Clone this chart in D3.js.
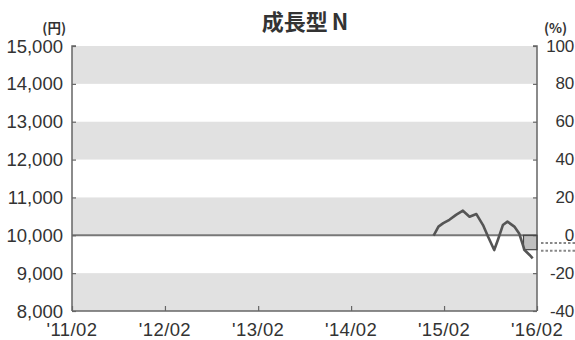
<!DOCTYPE html>
<html>
<head>
<meta charset="utf-8">
<script src="https://cdn.jsdelivr.net/npm/d3@7"></script>
<style>
  html, body { margin: 0; padding: 0; background: #fff; }
  svg text { font-family: "Liberation Sans", Arial, sans-serif; fill: #333; }
</style>
</head>
<body>
<svg id="chart" width="575" height="340"></svg>
<script>
// Fund name and unit labels
const titleMain = "成長型";
const titleSuffix = "N";
const leftUnit = "(円)";
const rightUnit = "(%)";

// Axis ticks
const yenTicks = [8000, 9000, 10000, 11000, 12000, 13000, 14000, 15000];
const pctTicks = [-40, -20, 0, 20, 40, 60, 80, 100];
const dateTicks = ["2011-02", "2012-02", "2013-02", "2014-02", "2015-02", "2016-02"];
const dateTickLabels = ["'11/02", "'12/02", "'13/02", "'14/02", "'15/02", "'16/02"];

// Shaded bands (yen ranges)
const bandLows = [8000, 10000, 12000, 14000];

// NAV series (dates and yen values)
const navDates = [
  "2014-12-22", "2015-01-10", "2015-01-29", "2015-02-22", "2015-03-20", "2015-04-16",
  "2015-05-12", "2015-06-08", "2015-07-04", "2015-07-24", "2015-08-17", "2015-09-01",
  "2015-09-20", "2015-10-08", "2015-11-04", "2015-11-23", "2015-12-14", "2016-01-03", "2016-01-15"
];
const navValues = [
  9990, 10230, 10320, 10410, 10540, 10650,
  10490, 10560, 10270, 9960, 9610, 9890,
  10270, 10360, 10230, 10050, 9610, 9480, 9390
];

// Marker box near the latest values (yen range) and dotted reference levels (%)
const boxRange = [9620, 10000];
const boxDates = ["2015-12-10", "2016-02-01"];
const refLevels = [-4.1, -8.2];

const parse = d3.timeParse("%Y-%m-%d");
const parseM = d3.timeParse("%Y-%m");

const svg = d3.select("#chart");
const plotLeft = 72, plotRight = 537, plotTop = 46, plotBottom = 311;
const labelSize = 18.5;

const x = d3.scaleTime()
  .domain([parseM("2011-02"), parseM("2016-02")])
  .range([plotLeft, plotRight]);
const y = d3.scaleLinear().domain([8000, 15000]).range([plotBottom, plotTop]);
const yPct = d3.scaleLinear().domain([-40, 100]).range([plotBottom, plotTop]);

// Bands
svg.append("g").selectAll("rect").data(bandLows).join("rect")
  .attr("x", plotLeft).attr("width", plotRight - plotLeft)
  .attr("y", d => y(d + 1000)).attr("height", d => y(d) - y(d + 1000))
  .attr("fill", "#e1e1e1");

// Base line at 10,000
svg.append("line")
  .attr("x1", plotLeft).attr("x2", plotRight)
  .attr("y1", y(10000)).attr("y2", y(10000))
  .attr("stroke", "#777").attr("stroke-width", 2);

// Left axis
const axisColor = "#666";
const gL = svg.append("g").attr("transform", `translate(${plotLeft},0)`)
  .call(d3.axisRight(y).tickValues(yenTicks).tickSize(4).tickFormat(""));
gL.select(".domain").attr("stroke", axisColor).attr("stroke-width", 1.5)
  .attr("d", `M4,${plotTop}H0V${plotBottom}`);
gL.selectAll(".tick line").attr("stroke", axisColor).attr("stroke-width", 1.2);

svg.append("g").selectAll("text").data(yenTicks).join("text")
  .attr("x", 63).attr("y", d => y(d))
  .attr("text-anchor", "end").attr("dominant-baseline", "central")
  .attr("font-size", labelSize)
  .text(d3.format(","));

// Right axis
const gR = svg.append("g").attr("transform", `translate(${plotRight},0)`)
  .call(d3.axisLeft(yPct).tickValues(pctTicks).tickSize(4).tickFormat(""));
gR.select(".domain").attr("stroke", axisColor).attr("stroke-width", 1.5)
  .attr("d", `M-4,${plotTop}H0V${plotBottom}`);
gR.selectAll(".tick line").attr("stroke", axisColor).attr("stroke-width", 1.2);

// Dotted reference levels
svg.append("g").selectAll("line").data(refLevels).join("line")
  .attr("x1", plotRight + 4).attr("x2", 575)
  .attr("y1", d => yPct(d)).attr("y2", d => yPct(d))
  .attr("stroke", "#888").attr("stroke-width", 2).attr("stroke-dasharray", "2.5,2");

svg.append("g").selectAll("text").data(pctTicks).join("text")
  .attr("x", 574).attr("y", d => yPct(d))
  .attr("text-anchor", "end").attr("dominant-baseline", "central")
  .attr("font-size", 17).attr("letter-spacing", -0.2)
  .text(d => d);

// Bottom axis
const gB = svg.append("g").attr("transform", `translate(0,${plotBottom})`)
  .call(d3.axisTop(x).tickValues(dateTicks.map(parseM)).tickSize(5).tickFormat(""));
gB.select(".domain").attr("stroke", axisColor).attr("stroke-width", 1.5)
  .attr("d", `M${plotLeft},0H${plotRight}`);
gB.selectAll(".tick line").attr("stroke", axisColor).attr("stroke-width", 1.2);

svg.append("g").selectAll("text").data(dateTicks).join("text")
  .attr("x", d => x(parseM(d))).attr("y", 336)
  .attr("text-anchor", "middle")
  .attr("font-size", labelSize).attr("letter-spacing", 0.4)
  .text((d, i) => dateTickLabels[i]);

// Marker box
svg.append("rect")
  .attr("x", x(parse(boxDates[0]))).attr("width", x(parse(boxDates[1])) - x(parse(boxDates[0])))
  .attr("y", y(boxRange[1])).attr("height", y(boxRange[0]) - y(boxRange[1]))
  .attr("fill", "#8a8a8a").attr("fill-opacity", 0.55)
  .attr("stroke", "#444").attr("stroke-width", 1.2);

// NAV line
const series = navDates.map((d, i) => ({ date: parse(d), value: navValues[i] }));
svg.append("path").datum(series)
  .attr("fill", "none").attr("stroke", "#555").attr("stroke-width", 2.6)
  .attr("stroke-linejoin", "round")
  .attr("d", d3.line().x(d => x(d.date)).y(d => y(d.value)));

// Title and unit labels
const titleText = svg.append("text").attr("x", 305).attr("y", 20)
  .attr("text-anchor", "middle").attr("dominant-baseline", "central")
  .style("font-family", "'Noto Sans CJK JP', sans-serif")
  .attr("font-size", 22).attr("font-weight", "bold");
titleText.append("tspan").text(titleMain);
titleText.append("tspan").attr("dx", 4).text(titleSuffix);

svg.append("text").attr("x", 66).attr("y", 27)
  .attr("text-anchor", "end").attr("dominant-baseline", "central")
  .style("font-family", "'Noto Sans CJK JP', sans-serif")
  .attr("font-size", 13.5).attr("font-weight", "bold").text(leftUnit);

svg.append("text").attr("x", 544).attr("y", 27)
  .attr("dominant-baseline", "central")
  .style("font-family", "'Noto Sans CJK JP', sans-serif")
  .attr("font-size", 13.5).attr("font-weight", "bold").text(rightUnit);
</script>
</body>
</html>
